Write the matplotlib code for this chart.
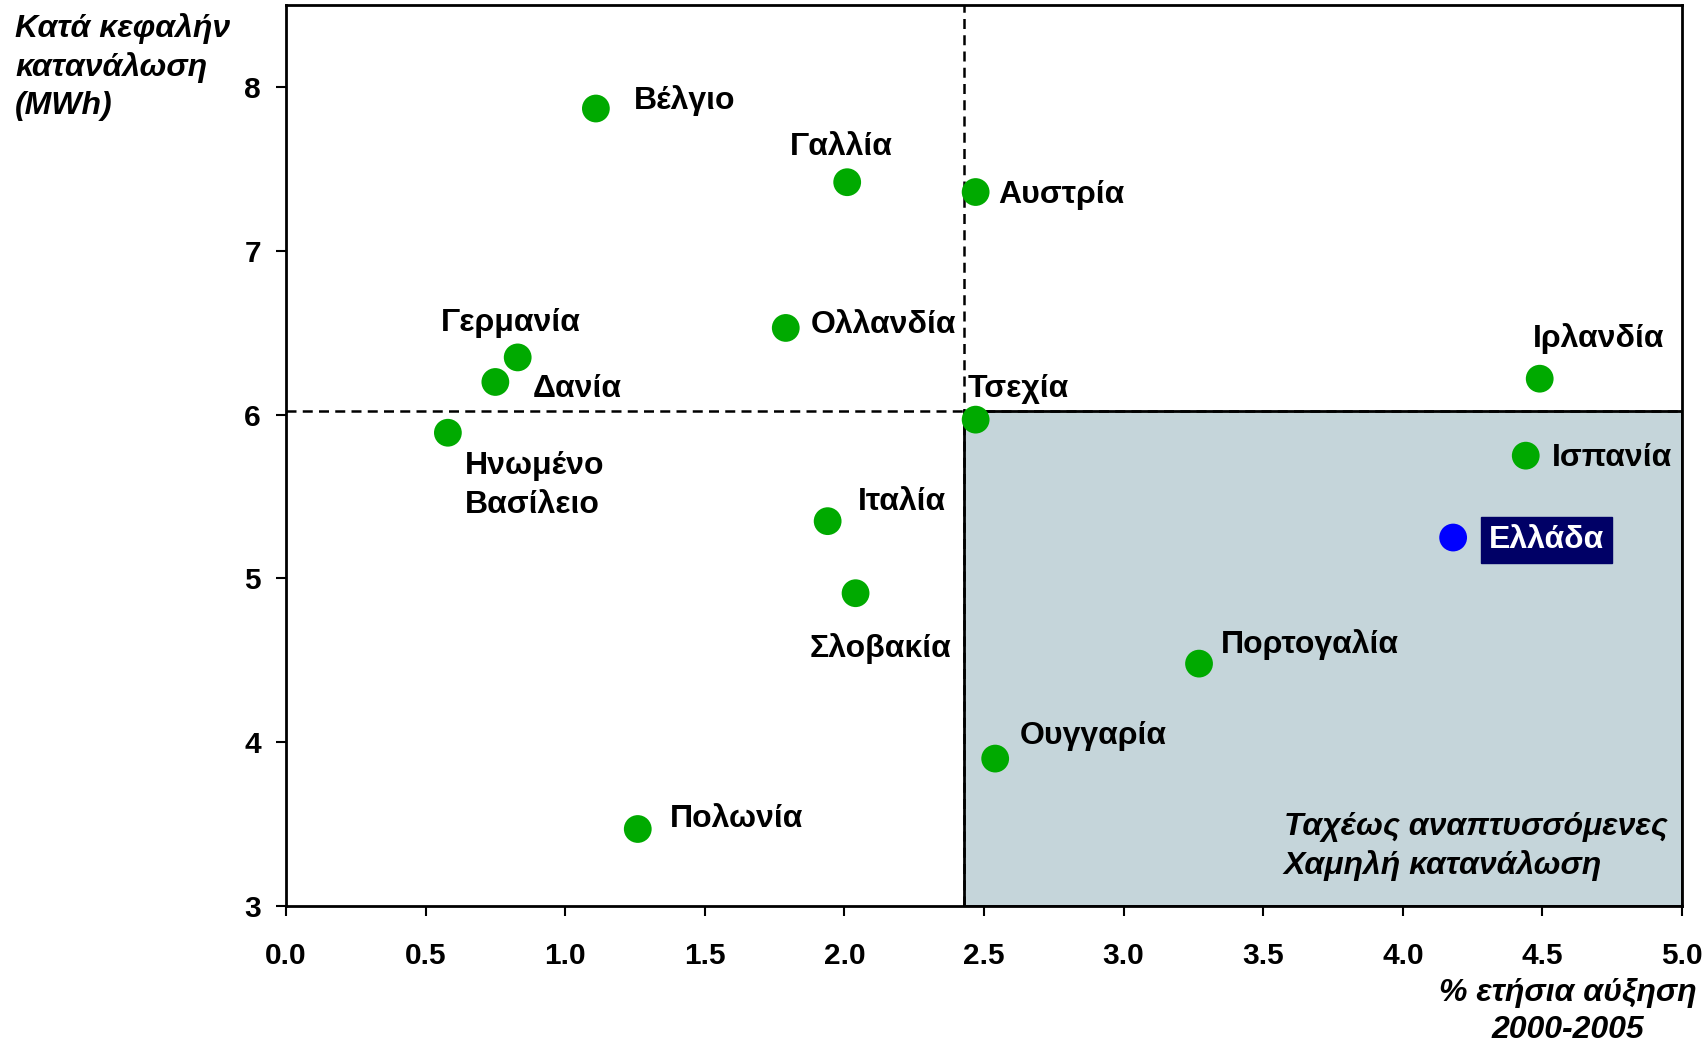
import matplotlib.pyplot as plt
from matplotlib.patches import Rectangle

plt.rcParams['font.family'] = ['Liberation Sans', 'DejaVu Sans']

# data
countries = ['Βέλγιο', 'Γαλλία', 'Αυστρία', 'Ολλανδία', 'Γερμανία', 'Δανία',
             'Ηνωμένο\nΒασίλειο', 'Τσεχία', 'Ιρλανδία', 'Ισπανία', 'Ελλάδα',
             'Ιταλία', 'Σλοβακία', 'Πορτογαλία', 'Ουγγαρία', 'Πολωνία']
growth = [1.11, 2.01, 2.47, 1.79, 0.83, 0.75, 0.58, 2.47, 4.49, 4.44, 4.18,
          1.94, 2.04, 3.27, 2.54, 1.26]
consumption = [7.87, 7.42, 7.36, 6.53, 6.35, 6.20, 5.89, 5.97, 6.22, 5.75, 5.25,
               5.35, 4.91, 4.48, 3.90, 3.47]
growth_cut = 2.43
consumption_cut = 6.02

# label offsets (points) and alignment
offsets = {
    'Βέλγιο': (27, 6, 'left'),
    'Γαλλία': (-4, 25, 'center'),
    'Αυστρία': (16, -2, 'left'),
    'Ολλανδία': (18, 2, 'left'),
    'Γερμανία': (-5, 25, 'center'),
    'Δανία': (27, -5, 'left'),
    'Ηνωμένο\nΒασίλειο': (12, -38, 'left'),
    'Τσεχία': (-6, 22, 'left'),
    'Ιρλανδία': (-5, 29, 'left'),
    'Ισπανία': (19, -2, 'left'),
    'Ελλάδα': (26, -2, 'left'),
    'Ιταλία': (22, 14, 'left'),
    'Σλοβακία': (18, -40, 'center'),
    'Πορτογαλία': (16, 14, 'left'),
    'Ουγγαρία': (18, 16, 'left'),
    'Πολωνία': (23, 7, 'left'),
}

FS = 23

fig = plt.figure(figsize=(17.06, 10.51), dpi=100)
ax = fig.add_axes([0.1676, 0.138, 0.8184, 0.8569])

ax.add_patch(Rectangle((growth_cut, 3), 5 - growth_cut, consumption_cut - 3,
                       facecolor='#c5d5da', edgecolor='black', lw=2, zorder=0))
ax.axvline(growth_cut, color='black', ls='--', lw=1.8, dashes=(4, 2.5), zorder=1)
ax.axhline(consumption_cut, color='black', ls='--', lw=1.8, dashes=(4, 2.5), zorder=1)

colors = ['#0000ff' if c == 'Ελλάδα' else '#00aa00' for c in countries]
ax.scatter(growth, consumption, s=400, c=colors, zorder=3, linewidths=0)

for name, x, y in zip(countries, growth, consumption):
    dx, dy, ha = offsets[name]
    if name == 'Ελλάδα':
        ax.annotate(name, (x, y), xytext=(dx, dy), textcoords='offset points',
                    ha=ha, va='center', fontsize=FS, fontweight='bold', color='white',
                    bbox=dict(boxstyle='square,pad=0.25', facecolor='#000066',
                              edgecolor='#000066'))
    else:
        ax.annotate(name, (x, y), xytext=(dx, dy), textcoords='offset points',
                    ha=ha, va='center', fontsize=FS, fontweight='bold',
                    linespacing=1.35)

ax.text(0.7147, 0.066, 'Ταχέως αναπτυσσόμενες\nΧαμηλή κατανάλωση',
        transform=ax.transAxes, ha='left', va='center', fontsize=FS,
        fontweight='bold', fontstyle='italic', linespacing=1.35)

ax.set_xlim(0, 5)
ax.set_ylim(3, 8.5)
ax.set_xticks([0, 0.5, 1, 1.5, 2, 2.5, 3, 3.5, 4, 4.5, 5])
ax.set_xticklabels(['0.0', '0.5', '1.0', '1.5', '2.0', '2.5', '3.0', '3.5',
                    '4.0', '4.5', '5.0'])
ax.set_yticks([3, 4, 5, 6, 7, 8])
ax.tick_params(axis='x', direction='out', length=7, width=1.5, pad=19,
               labelsize=21.5)
ax.tick_params(axis='y', direction='out', length=7, width=1.5, pad=11,
               labelsize=21.5)
for lab in ax.get_xticklabels() + ax.get_yticklabels():
    lab.set_fontweight('bold')
for sp in ax.spines.values():
    sp.set_linewidth(2)

fig.text(0.0088, 0.988, 'Κατά κεφαλήν\nκατανάλωση\n(MWh)', ha='left', va='top',
         fontsize=FS, fontweight='bold', fontstyle='italic', linespacing=1.35)
fig.text(0.919, 0.006, '% ετήσια αύξηση\n2000-2005', ha='center', va='bottom',
         fontsize=FS, fontweight='bold', fontstyle='italic', linespacing=1.3)

fig.savefig('out.png', dpi=100)
